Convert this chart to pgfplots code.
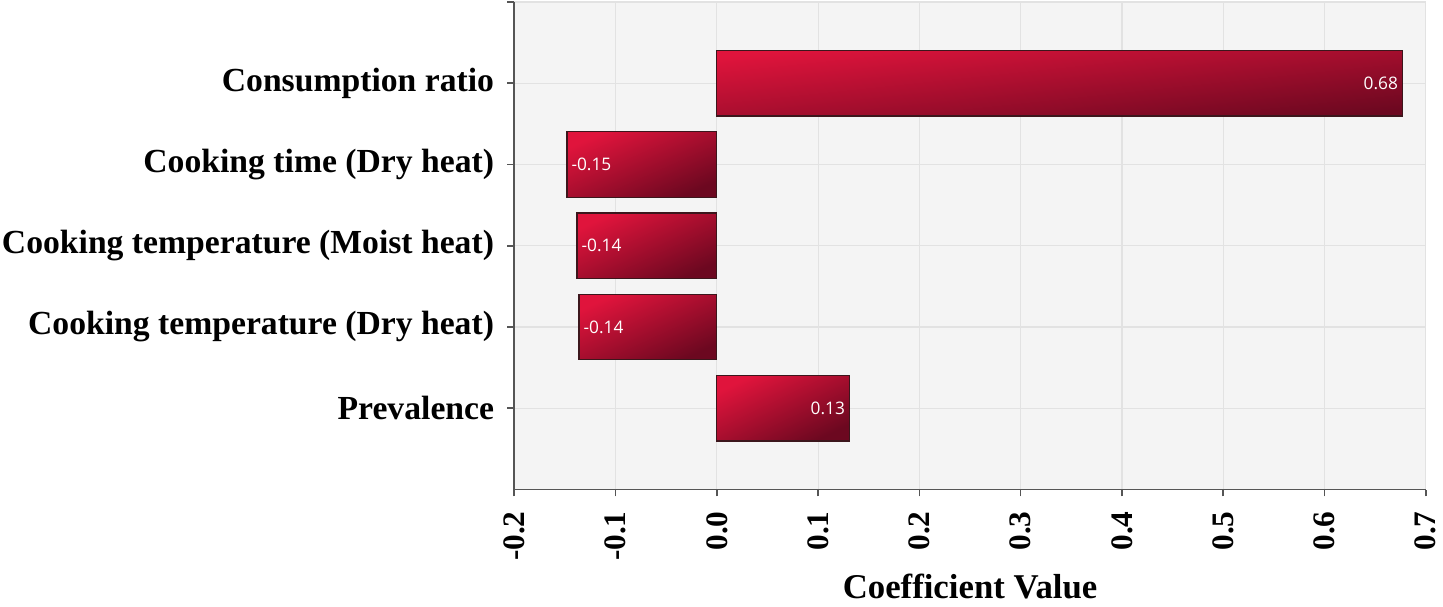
\documentclass[border=0pt]{standalone}
\usepackage{fontspec}
\setmainfont{Liberation Serif}
\newfontfamily\valfont{Open Sans}
\usepackage{pgfplots}
\pgfplotsset{compat=1.18}
\definecolor{barlight}{RGB}{224,20,60}
\definecolor{bardark}{RGB}{108,8,32}
\definecolor{bardraw}{RGB}{60,22,28}
\definecolor{bgc}{RGB}{244,244,244}
\definecolor{gridc}{RGB}{226,226,226}
\definecolor{axc}{RGB}{85,85,85}
\pgfplotsset{
  mybar/.style={draw=bardraw, line width=0.6bp, top color=barlight, bottom color=bardark, shading angle=#1,
    nodes near coords, point meta=explicit symbolic,
    every node near coord/.append style={text=white, font=\valfont\fontsize{8.7bp}{10bp}\selectfont, inner sep=2bp}},
  posbar/.style={mybar=#1, nodes near coords align={anchor=east}},
  negbar/.style={mybar=#1, nodes near coords align={anchor=west}},
}
\begin{document}
\begin{tikzpicture}
\begin{axis}[
  scale only axis, width=459bp, height=245.5bp,
  xmin=-0.2, xmax=0.7, ymin=-1, ymax=5,
  axis x line*=bottom, axis y line*=left,
  axis line style={axc, line width=0.8bp},
  axis background/.style={fill=bgc},
  xtick={-0.2,-0.1,0,0.1,0.2,0.3,0.4,0.5,0.6,0.7},
  xticklabels={-0.2,-0.1,0.0,0.1,0.2,0.3,0.4,0.5,0.6,0.7},
  ytick={0,1,2,3,4,5},
  yticklabels={Prevalence,Cooking temperature (Dry heat),Cooking temperature (Moist heat),Cooking time (Dry heat),Consumption ratio,{}},
  grid=major, major grid style={gridc, line width=0.6bp},
  tick align=outside, major tick length=3.5bp,
  tick style={axc, line width=0.8bp},
  yticklabel style={font=\fontsize{16.95bp}{20bp}\selectfont\bfseries, inner sep=1bp},
  yticklabel shift=5.5bp,
  xticklabel style={rotate=90, anchor=east, font=\fontsize{15.75bp}{18bp}\selectfont\bfseries},
  xticklabel shift=4bp,
  xlabel={Coefficient Value},
  xlabel style={font=\fontsize{17.5bp}{20bp}\selectfont\bfseries},
  xbar, bar width=33bp, bar shift=0pt,
]
\addplot[posbar=6] coordinates {(0.677,4) [0.68]};
\addplot[negbar=24] coordinates {(-0.148,3) [-0.15]};
\addplot[negbar=25] coordinates {(-0.138,2) [-0.14]};
\addplot[negbar=25] coordinates {(-0.136,1) [-0.14]};
\addplot[posbar=26] coordinates {(0.131,0) [0.13]};
\end{axis}
\end{tikzpicture}
\end{document}
